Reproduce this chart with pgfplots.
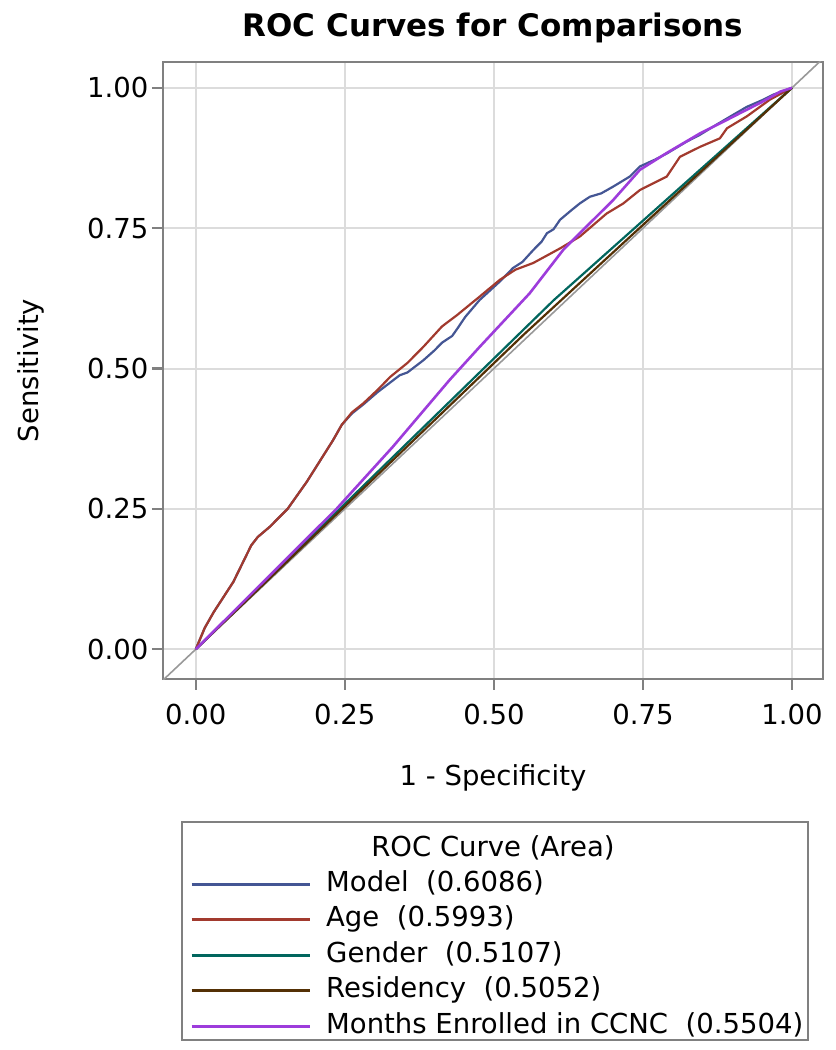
\documentclass[border=0pt]{standalone}
\usepackage{pgfplots}
\pgfplotsset{compat=1.18}
\usepackage{fontspec}
\setmainfont{DejaVu Sans}

\definecolor{cModel}{HTML}{445694}
\definecolor{cAge}{HTML}{A23A2E}
\definecolor{cGender}{HTML}{01665E}
\definecolor{cRes}{HTML}{543005}
\definecolor{cMonths}{HTML}{9D3CDB}
\definecolor{framec}{HTML}{808080}
\definecolor{gridc}{HTML}{DCDCDC}
\newcommand{\lbl}{\fontsize{27.5bp}{33bp}\selectfont}

\begin{document}
\begin{tikzpicture}
\useasboundingbox (0bp,0bp) rectangle (836bp,1050bp);

% title and legend frame
\node[anchor=base, font=\fontsize{31bp}{36bp}\selectfont\bfseries] at (493bp,1013bp) {ROC Curves for Comparisons};
\draw[framec, line width=2.5bp] (182bp,228bp) rectangle (808bp,10bp);
\node[anchor=base, font=\lbl] at (493bp,193bp) {ROC Curve (Area)};

\begin{axis}[
  at={(163bp,371bp)}, anchor=south west,
  scale only axis, width=660bp, height=617bp,
  xmin=-0.055, xmax=1.052, ymin=-0.053, ymax=1.046,
  xtick={0,0.25,0.5,0.75,1}, ytick={0,0.25,0.5,0.75,1},
  xticklabels={0.00,0.25,0.50,0.75,1.00},
  yticklabels={0.00,0.25,0.50,0.75,1.00},
  xtick pos=bottom, ytick pos=left,
  tick align=outside, major tick length=11bp,
  tick style={framec, line width=2.2bp},
  ticklabel style={font=\lbl},
  xticklabel style={yshift=-11bp},
  grid=major, grid style={gridc, line width=2bp},
  axis line style={framec, line width=2.5bp},
  xlabel={1 - Specificity}, ylabel={Sensitivity},
  label style={font=\lbl},
  xlabel style={at={(axis description cs:0.5,-0.1718)}, anchor=base},
  ylabel style={at={(axis description cs:-0.200,0.5)}, anchor=center},
  legend style={at={(axis description cs:0.0409,-0.3038)}, anchor=north west,
    draw=none, fill=none, inner sep=0pt, row sep=0pt, column sep=15bp,
    font=\lbl, cells={anchor=west},
    nodes={inner sep=0pt, text height=24.5bp, text depth=11bp}},
  legend image code/.code={\draw[#1, line width=3bp] (0bp,0bp) -- (118bp,0bp);},
]
% chance diagonal
\addplot[gray!80, line width=1.6bp, forget plot] coordinates {(-0.06,-0.06) (1.06,1.06)};

\addplot[cModel, line width=2.2bp] coordinates {
(0,0) (0.015,0.038) (0.03,0.066) (0.063,0.12) (0.093,0.185) (0.104,0.2)
(0.124,0.218) (0.154,0.25) (0.186,0.298) (0.23,0.372) (0.245,0.400)
(0.262,0.420) (0.281,0.436) (0.305,0.458) (0.326,0.475) (0.342,0.488)
(0.355,0.493) (0.382,0.515) (0.40,0.532) (0.413,0.546) (0.43,0.558)
(0.438,0.57) (0.452,0.592) (0.476,0.622) (0.51,0.655) (0.532,0.679)
(0.548,0.69) (0.566,0.711) (0.58,0.726) (0.589,0.741) (0.60,0.748)
(0.611,0.765) (0.63,0.782) (0.644,0.794) (0.661,0.806) (0.68,0.812)
(0.700,0.824) (0.728,0.842) (0.745,0.860) (0.770,0.872) (0.790,0.883)
(0.823,0.904) (0.845,0.916) (0.868,0.931) (0.895,0.948) (0.924,0.966)
(0.95,0.978) (0.969,0.988) (1,1)};
\addlegendentry{Model\ \ (0.6086)}

\addplot[cAge, line width=2.2bp] coordinates {
(0,0) (0.015,0.038) (0.03,0.066) (0.063,0.12) (0.093,0.185) (0.104,0.2)
(0.124,0.218) (0.154,0.25) (0.186,0.298) (0.23,0.372) (0.245,0.400)
(0.262,0.422) (0.281,0.438) (0.305,0.462) (0.326,0.485) (0.355,0.51)
(0.382,0.539) (0.413,0.575) (0.438,0.595) (0.476,0.628) (0.51,0.658)
(0.536,0.676) (0.566,0.688) (0.611,0.714) (0.644,0.735) (0.689,0.776)
(0.717,0.794) (0.745,0.818) (0.79,0.842) (0.812,0.877) (0.846,0.895)
(0.879,0.91) (0.891,0.928) (0.924,0.949) (0.963,0.979) (1,1)};
\addlegendentry{Age\ \ (0.5993)}

\addplot[cGender, line width=2.2bp] coordinates {(0,0) (0.60,0.6214) (1,1)};
\addlegendentry{Gender\ \ (0.5107)}

\addplot[cRes, line width=2.2bp] coordinates {(0,0) (0.55,0.5604) (1,1)};
\addlegendentry{Residency\ \ (0.5052)}

\addplot[cMonths, line width=2.6bp] coordinates {
(0,0) (0.1,0.106) (0.236,0.25) (0.33,0.36) (0.426,0.48) (0.4765,0.539)
(0.56,0.634) (0.616,0.711) (0.644,0.741) (0.70,0.80) (0.745,0.854)
(0.79,0.884) (0.846,0.919) (0.88,0.937) (0.913,0.955) (0.95,0.975)
(0.98,0.993) (1,1)};
\addlegendentry{Months Enrolled in CCNC\ \ (0.5504)}
\end{axis}
\end{tikzpicture}
\end{document}
